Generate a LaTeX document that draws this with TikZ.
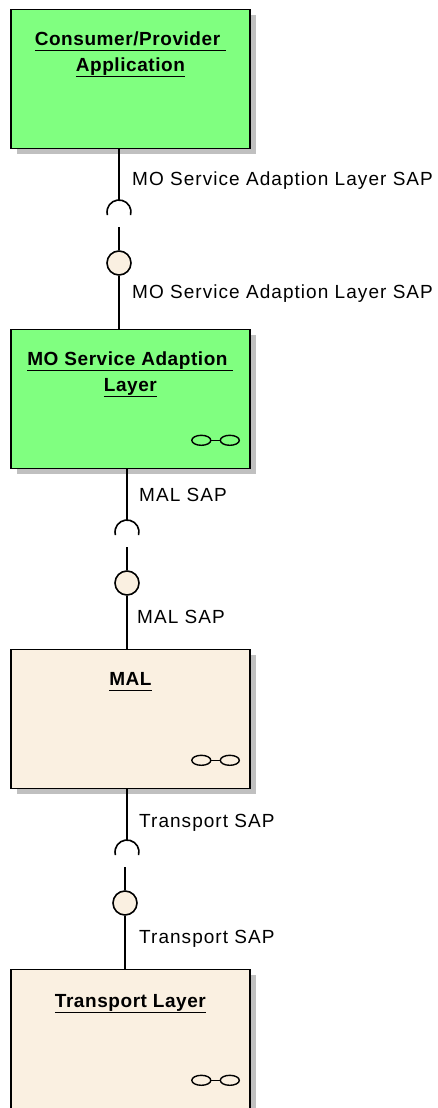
\documentclass[tikz,border=0pt]{standalone}
\usepackage{fontspec}
\setmainfont{Liberation Sans}
\newfontfamily\lblfont[LetterSpace=5.5]{Liberation Sans}
\newfontfamily\ttlfont[LetterSpace=3]{Liberation Sans}
\usetikzlibrary{shadows}
\definecolor{compgreen}{RGB}{128,255,128}
\definecolor{compbeige}{RGB}{250,240,225}
\definecolor{shadowgray}{RGB}{192,192,192}
\newcommand\ulbox[1]{\setbox0\hbox{#1}\rlap{\rule[-6.3bp]{\wd0}{1.6bp}}\box0}
\tikzset{
  component/.style={draw, line width=1.8bp, minimum width=239bp, minimum height=139bp,
    anchor=north west, inner sep=0pt,
    drop shadow={shadow xshift=6bp, shadow yshift=-6bp, fill=shadowgray, opacity=1}},
  ctitle/.style={anchor=base, align=center, inner sep=0pt,
    font=\ttlfont\bfseries\fontsize{19bp}{26bp}\selectfont},
  sap/.style={anchor=base west, inner sep=0pt, font=\lblfont\fontsize{19bp}{23bp}\selectfont},
  wire/.style={line width=1.8bp},
  ball/.style={circle, draw, line width=1.6bp, fill=compbeige, minimum size=24bp, inner sep=0pt},
  socket/.style={line width=1.6bp},
  iconring/.style={line width=1.4bp}
}
\begin{document}
\begin{tikzpicture}[x=1bp,y=1bp]
\useasboundingbox (0,0) rectangle (438,-1108);
% components
\node[component, fill=compgreen] (app) at (10,-8.5) {};
\node[component, fill=compgreen] (msa) at (10,-328.5) {};
\node[component, fill=compbeige] (mal) at (10,-648.5) {};
\node[component, fill=compbeige] (tl) at (10,-968.5) {};
% titles (base anchor = baseline of the last line)
\node[ctitle] (appT) at ([yshift=-62.5bp]app.north) {\ulbox{Consumer/Provider\ }\\\ulbox{Application}};
\node[ctitle] (msaT) at ([yshift=-62.5bp]msa.north) {\ulbox{MO Service Adaption\ }\\\ulbox{Layer}};
\node[ctitle] (malT) at ([yshift=-36.5bp]mal.north) {\ulbox{MAL}};
\node[ctitle] (tlT) at ([yshift=-38.5bp]tl.north) {\ulbox{Transport Layer}};
% link icons
\foreach \b in {msa,mal,tl}{
  \draw[iconring] ([shift={(-49.5,29)}]\b.south east) ellipse [x radius=9.5bp, y radius=5bp];
  \draw[iconring] ([shift={(-21,29)}]\b.south east) ellipse [x radius=9.5bp, y radius=5bp];
  \draw[iconring] ([shift={(-40,29)}]\b.south east) -- ([shift={(-30.5,29)}]\b.south east);
}
% interface pair 1
\coordinate (sk1) at (119,-212);
\node[ball] (bl1) at (119,-263) {};
\coordinate (st1) at (119,-227);
\draw[wire] (sk1 |- app.south) -- ([yshift=12bp]sk1);
\draw[socket] ([shift={(-15:12bp)}]sk1) arc[start angle=-15, end angle=195, radius=12bp];
\draw[wire] (bl1.north) -- (st1);
\draw[wire] (bl1.south) -- (bl1 |- msa.north);
% interface pair 2
\coordinate (sk2) at (127,-532);
\node[ball] (bl2) at (127,-583) {};
\coordinate (st2) at (127,-547);
\draw[wire] (sk2 |- msa.south) -- ([yshift=12bp]sk2);
\draw[socket] ([shift={(-15:12bp)}]sk2) arc[start angle=-15, end angle=195, radius=12bp];
\draw[wire] (bl2.north) -- (st2);
\draw[wire] (bl2.south) -- (bl2 |- mal.north);
% interface pair 3
\coordinate (sk3) at (127,-852);
\node[ball] (bl3) at (125,-903) {};
\coordinate (st3) at (125,-867);
\draw[wire] (sk3 |- mal.south) -- ([yshift=12bp]sk3);
\draw[socket] ([shift={(-15:12bp)}]sk3) arc[start angle=-15, end angle=195, radius=12bp];
\draw[wire] (bl3.north) -- (st3);
\draw[wire] (bl3.south) -- (bl3 |- tl.north);
% labels
\node[sap] (l1a) at (132,-185) {MO Service Adaption Layer SAP};
\node[sap] (l1b) at (132,-298) {MO Service Adaption Layer SAP};
\node[sap] (l2a) at (139,-501) {MAL SAP};
\node[sap] (l2b) at (137,-623) {MAL SAP};
\node[sap] (l3a) at (139,-827) {Transport SAP};
\node[sap] (l3b) at (139,-943) {Transport SAP};
\end{tikzpicture}
\end{document}
